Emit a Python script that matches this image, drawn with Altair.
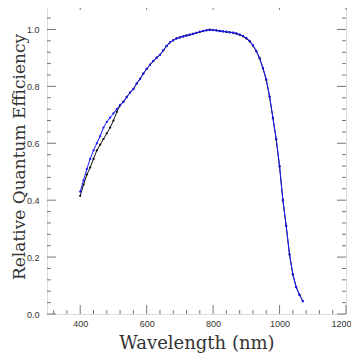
import altair as alt
import pandas as pd

wavelength = [400, 410, 420, 430, 440, 450, 460, 470, 480, 490,
              500, 510, 520, 530, 540, 550, 560, 570, 580, 590,
              600, 610, 620, 630, 640, 650, 660, 670, 680, 690,
              700, 710, 720, 730, 740, 750, 760, 770, 780, 790,
              800, 810, 820, 830, 840, 850, 860, 870, 880, 890,
              900, 910, 920, 930, 940, 950, 960, 970, 980, 990,
              1000, 1010, 1020, 1030, 1040, 1050, 1060, 1070]

qe_blue = [0.430, 0.470, 0.510, 0.545, 0.575, 0.600, 0.625, 0.655, 0.675, 0.690,
           0.705, 0.720, 0.735, 0.745, 0.762, 0.778, 0.790, 0.810, 0.825, 0.845,
           0.862, 0.875, 0.890, 0.900, 0.910, 0.927, 0.942, 0.955, 0.962, 0.968,
           0.972, 0.975, 0.978, 0.982, 0.984, 0.988, 0.992, 0.995, 0.997, 0.998,
           0.998, 0.996, 0.994, 0.993, 0.992, 0.990, 0.989, 0.986, 0.982, 0.977,
           0.970, 0.960, 0.945, 0.925, 0.900, 0.865, 0.825, 0.765, 0.690, 0.615,
           0.520, 0.400, 0.310, 0.210, 0.140, 0.095, 0.068, 0.045]

qe_black = [0.415, 0.455, 0.490, 0.515, 0.545, 0.575, 0.595, 0.615, 0.635, 0.655,
            0.680, 0.710, 0.733, 0.746, 0.763, 0.778, 0.791, 0.810, 0.826, 0.845,
            0.861, 0.876, 0.889, 0.901, 0.911, 0.926, 0.941, 0.954, 0.962, 0.969,
            0.972, 0.976, 0.979, 0.981, 0.985, 0.988, 0.991, 0.994, 0.997, 0.999,
            0.998, 0.997, 0.995, 0.993, 0.991, 0.990, 0.988, 0.985, 0.981, 0.976,
            0.968, 0.958, 0.943, 0.923, 0.898, 0.863, 0.822, 0.763, 0.688, 0.613,
            0.518, 0.400, 0.309, 0.209, 0.139, 0.094, 0.067, 0.045]

x_major = [400, 600, 800, 1000, 1200]
x_minor = [320, 360, 440, 480, 520, 560, 640, 680, 720, 760,
           840, 880, 920, 960, 1040, 1080, 1120, 1160]
y_major = [0.0, 0.2, 0.4, 0.6, 0.8, 1.0]
y_minor = [0.04, 0.08, 0.12, 0.16, 0.24, 0.28, 0.32, 0.36, 0.44, 0.48,
           0.52, 0.56, 0.64, 0.68, 0.72, 0.76, 0.84, 0.88, 0.92, 0.96,
           1.04, 1.08]

W, H = 299, 313
MAJ, MIN = 9, 4
TICK_COLOR = "#777777"
SERIF = "DejaVu Serif, Liberation Serif, serif"

xs = alt.Scale(domain=[300, 1200], nice=False, zero=False)
ys = alt.Scale(domain=[0, 1.1], nice=False, zero=False)

df = pd.DataFrame({"wl": wavelength * 2,
                   "qe": qe_black + qe_blue,
                   "series": ["black"] * len(wavelength) + ["blue"] * len(wavelength)})

xaxis = alt.Axis(values=x_major, format="d", ticks=False, domain=False, grid=False,
                 labelFont="Liberation Sans", labelFontSize=9, labelColor="#333333",
                 labelPadding=5, labelFlush=True, labelFlushOffset=5,
                 title="Wavelength (nm)", titleFont=SERIF,
                 titleFontSize=18, titleFontWeight="normal", titleColor="#333333",
                 titlePadding=6)
yaxis = alt.Axis(values=y_major, format=".1f", ticks=False, domain=False, grid=False,
                 labelFont="Liberation Sans", labelFontSize=9, labelColor="#333333",
                 labelPadding=8, title="Relative Quantum Efficiency",
                 titleFont=SERIF, titleFontSize=17, titleFontWeight="normal",
                 titleColor="#333333", titleAngle=270, titleBaseline="middle",
                 titleX=-28, titleY=H / 2 - 1, labelFlush=False)

lines = alt.Chart(df).mark_line(strokeWidth=1, point=alt.OverlayMarkDef(size=5, filled=True)).encode(
    x=alt.X("wl:Q", scale=xs, axis=xaxis),
    y=alt.Y("qe:Q", scale=ys, axis=yaxis),
    color=alt.Color("series:N", scale=alt.Scale(domain=["black", "blue"], range=["#111111", "#1a1aff"]), legend=None),
    order=alt.Order("wl:Q"),
)

def xticks(vals, length):
    d = pd.DataFrame({"v": vals})
    bottom = alt.Chart(d).mark_rule(color=TICK_COLOR, strokeWidth=1).encode(
        x=alt.X("v:Q", scale=xs), y=alt.value(H), y2=alt.value(H - length))
    top = alt.Chart(d).mark_rule(color=TICK_COLOR, strokeWidth=1).encode(
        x=alt.X("v:Q", scale=xs), y=alt.value(0), y2=alt.value(length))
    return [bottom, top]

def yticks(vals, length):
    d = pd.DataFrame({"v": vals})
    left = alt.Chart(d).mark_rule(color=TICK_COLOR, strokeWidth=1).encode(
        y=alt.Y("v:Q", scale=ys), x=alt.value(0), x2=alt.value(length))
    right = alt.Chart(d).mark_rule(color=TICK_COLOR, strokeWidth=1).encode(
        y=alt.Y("v:Q", scale=ys), x=alt.value(W), x2=alt.value(W - length))
    return [left, right]

layers = xticks(x_major, MAJ) + xticks(x_minor, MIN) + yticks(y_major, MAJ) + yticks(y_minor, MIN) + [lines]

chart = alt.layer(*layers).properties(
    width=W, height=H,
    autosize=alt.AutoSizeParams(type="none"),
    padding={"left": 39, "top": -7, "right": 5, "bottom": 40},
).configure_view(stroke="#888888", strokeWidth=1).configure(background="white")

chart.save("out.html", embed_options={"renderer": "svg", "actions": False})
